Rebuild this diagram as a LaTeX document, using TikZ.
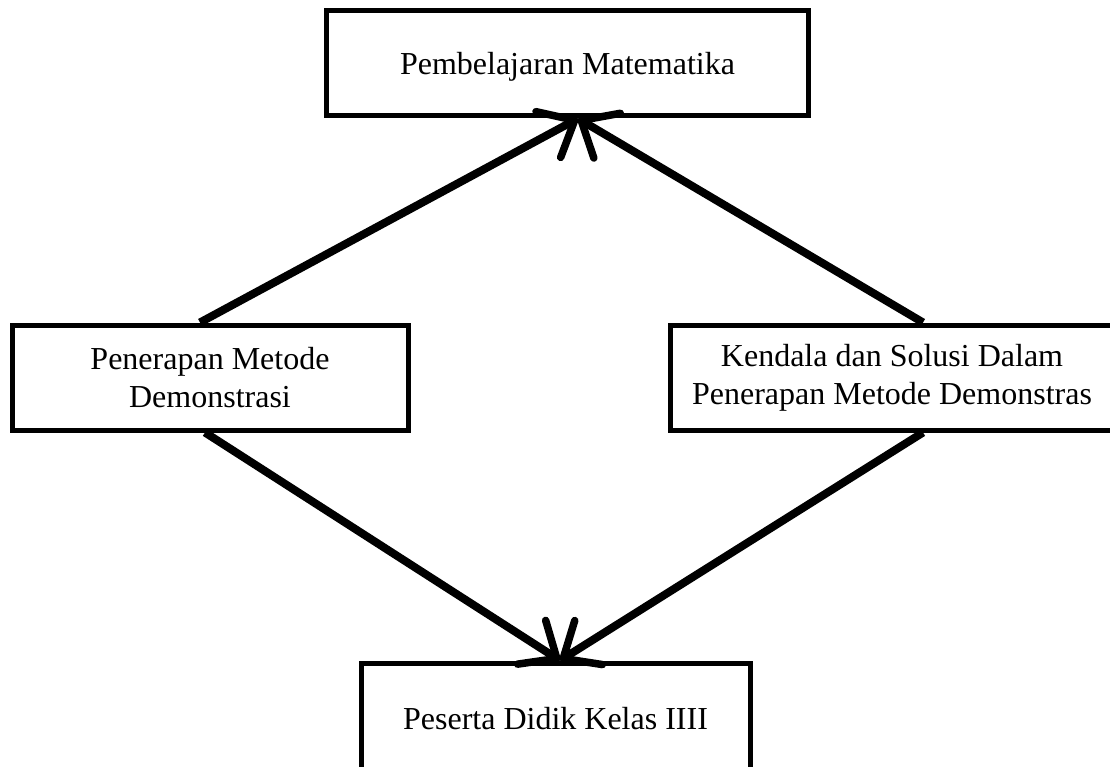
\documentclass[tikz,border=0pt]{standalone}
\usepackage{fontspec}
\setmainfont{Liberation Serif}
\usetikzlibrary{arrows.meta}
\tikzset{
  box/.style={draw=black, line width=5pt, fill=white, align=center, inner sep=0pt,
    font=\fontsize{32}{38}\selectfont},
  arr/.style={line width=8pt, -{Straight Barb[length=30pt, width=52pt, line width=7.5pt, round]}}
}
\begin{document}
\begin{tikzpicture}[x=1pt, y=-1pt]
\useasboundingbox (0,0) rectangle (1110,767);
\clip (0,0) rectangle (1110,767);
\node[box, minimum width=482pt, minimum height=105pt, text height=30pt, text depth=7pt] (T) at (567.5,63.5) {Pembelajaran Matematika};
\node[box, minimum width=396pt, minimum height=105pt] (L) at (210,377.5) {Penerapan Metode\\Demonstrasi};
\node[box, minimum width=444pt, minimum height=105pt] (R) at (892,377.5) {Kendala dan Solusi Dalam\\Penerapan Metode Demonstras};
\node[box, minimum width=389pt, minimum height=112pt] (B) at (555.5,719) {Peserta Didik Kelas IIII};
\draw[arr] ([xshift=-10pt]L.north) -- ([xshift=10.5pt]T.south);
\draw[arr] ([xshift=31pt]R.north) -- ([xshift=10.5pt]T.south);
\draw[arr] ([xshift=-5pt]L.south) -- ([xshift=4.5pt]B.north);
\draw[arr] ([xshift=31pt]R.south) -- ([xshift=4.5pt]B.north);
\end{tikzpicture}
\end{document}
